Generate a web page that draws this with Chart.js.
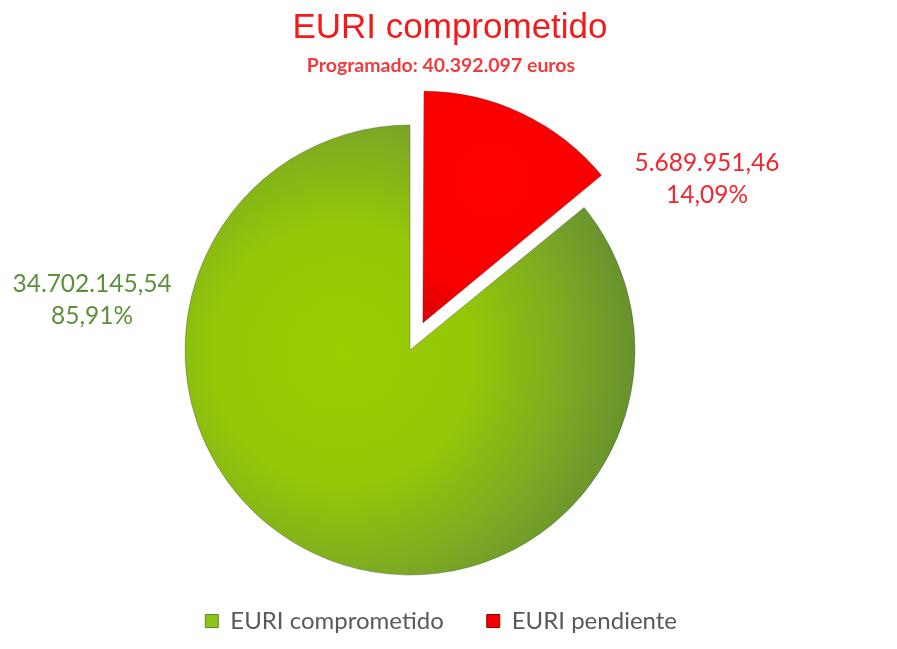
<!DOCTYPE html>
<html>
<head>
<meta charset="utf-8">
<script src="https://cdn.jsdelivr.net/npm/chart.js@4.4.1/dist/chart.umd.min.js"></script>
<style>
  html, body { margin: 0; padding: 0; background: #fff; overflow: hidden; }
  #wrap { position: relative; width: 897px; height: 649px; }
  #title { position: absolute; left: 0; top: 8px; width: 900px; text-align: center;
    font: 35px 'Liberation Sans', Arial, sans-serif; line-height: 35px; color: #f21b1b; }
  #subtitle { position: absolute; left: 0; top: 55px; width: 882px; text-align: center;
    font: bold 19.5px Lato, sans-serif; line-height: 20px; color: #ef3b3b; }
  canvas { position: absolute; left: 0; top: 0; }
</style>
</head>
<body>
<div id="wrap">
  <canvas id="pieChart" width="897" height="649"></canvas>
  <div id="title">EURI comprometido</div>
  <div id="subtitle"></div>
</div>
<script>
// Data
const categories = ['EURI comprometido', 'EURI pendiente'];
const values = [34702145.54, 5689951.46];

const total = values.reduce((a, b) => a + b, 0);

// styles
const legendColors = ['#8dc21b', '#ee0000'];
const legendBorders = ['#5e8a1e', '#9a0000'];
const labelColors = ['#5e8f3c', '#f2262e'];
// label block centres, in units of the pie radius from its centre
const labelPos = [[-1.413, -0.224], [1.32, -0.76]];

// Function to format euros the Spanish way
function formatEuro(v, decimals) {
  const parts = v.toFixed(decimals).split('.');
  const intPart = parts[0].replace(/\B(?=(\d{3})+(?!\d))/g, '.');
  return decimals ? intPart + ',' + parts[1] : intPart;
}
function formatPct(p) {
  return (p * 100).toFixed(2).replace('.', ',') + '%';
}

document.getElementById('subtitle').textContent = 'Programado: ' + formatEuro(total, 0) + ' euros';

// Gradient fills for the slices
function sliceFill(context) {
  const chart = context.chart;
  const area = chart.chartArea;
  const i = context.dataIndex;
  if (!area) return legendColors[i];
  const cx = (area.left + area.right) / 2;
  const cy = (area.top + area.bottom) / 2;
  const r = 225;
  const c = chart.ctx;
  if (i === 0) {
    const g = c.createRadialGradient(cx - 0.3 * r, cy + 0.02 * r, 0, cx - 0.3 * r, cy + 0.02 * r, 1.3 * r);
    g.addColorStop(0, '#9ccf00');
    g.addColorStop(0.45, '#93c708');
    g.addColorStop(0.8, '#7aa626');
    g.addColorStop(1, '#67922e');
    return g;
  }
  const a = Math.PI * values[1] / total;
  const mx = cx + Math.sin(a) * (0.55 * r + 34);
  const my = cy - Math.cos(a) * (0.55 * r + 34);
  const g = c.createRadialGradient(mx, my, 0, mx, my, 0.8 * r);
  g.addColorStop(0, '#ff0000');
  g.addColorStop(0.6, '#f80000');
  g.addColorStop(1, '#cc0000');
  return g;
}

// Value + percent labels next to the slices
const sliceLabels = {
  id: 'sliceLabels',
  afterDatasetsDraw(chart) {
    const arc = chart.getDatasetMeta(0).data[0];
    const cx = arc.x, cy = arc.y, r = arc.outerRadius;
    const ctx = chart.ctx;
    ctx.save();
    ctx.font = '24.5px Lato';
    ctx.textAlign = 'center';
    ctx.textBaseline = 'middle';
    values.forEach((v, i) => {
      const x = cx + labelPos[i][0] * r;
      const y = cy + labelPos[i][1] * r;
      ctx.fillStyle = labelColors[i];
      ctx.fillText(formatEuro(v, 2), x, y - 16);
      ctx.fillText(formatPct(v / total), x, y + 16);
    });
    ctx.restore();
  }
};

const pie = document.getElementById('pieChart');
const pieChart = new Chart(pie, {
  type: 'pie',
  data: {
    labels: categories,
    datasets: [{
      data: values,
      backgroundColor: sliceFill,
      borderColor: 'rgba(70, 70, 70, 0.35)',
      borderWidth: 1,
      offset: [0, 120],
      hoverOffset: 0,
      clip: false
    }]
  },
  options: {
    responsive: false,
    animation: false,
    devicePixelRatio: 1,
    rotation: 360 * values[1] / total,
    radius: 225,
    layout: {
      padding: { left: 100, right: 177, top: 134, bottom: 6 }
    },
    plugins: {
      tooltip: { enabled: false },
      legend: {
        position: 'bottom',
        align: 'end',
        labels: {
          boxWidth: 13,
          boxHeight: 13,
          padding: 43,
          color: '#595959',
          font: { family: 'Lato', size: 24 },
          generateLabels: chart => {
            const items = Chart.overrides.pie.plugins.legend.labels.generateLabels(chart);
            items.forEach((it, i) => {
              it.fillStyle = legendColors[i];
              it.strokeStyle = legendBorders[i];
              it.lineWidth = 1;
            });
            return items;
          }
        }
      }
    }
  },
  plugins: [sliceLabels]
});
</script>
</body>
</html>
